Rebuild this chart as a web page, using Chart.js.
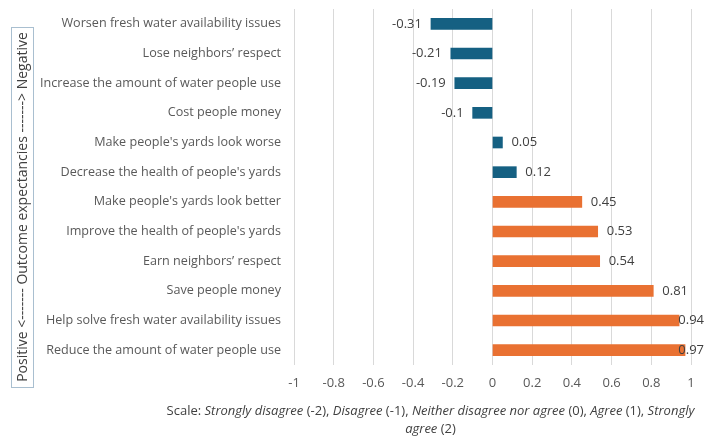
<!DOCTYPE html>
<html>
<head>
<meta charset="utf-8">
<script src="https://cdn.jsdelivr.net/npm/chart.js@4"></script>
<style>
  html, body { margin: 0; padding: 0; background: #fff; }
  #wrap { position: relative; width: 705px; height: 437px; }
  #caption {
    position: absolute; left: 158px; top: 401px; width: 545px;
    text-align: center; font: 13px "Open Sans", sans-serif; color: #404040; line-height: 18px;
  }
</style>
</head>
<body>
<div id="wrap">
  <canvas id="chart" width="705" height="437"></canvas>
  <div id="caption">Scale: <i>Strongly disagree</i> (-2), <i>Disagree</i> (-1), <i>Neither disagree nor agree</i> (0), <i>Agree</i> (1), <i>Strongly agree</i> (2)</div>
</div>
<script>
  // --- Data ---
  const categories = [
    "Worsen fresh water availability issues",
    "Lose neighbors’ respect",
    "Increase the amount of water people use",
    "Cost people money",
    "Make people's yards look worse",
    "Decrease the health of people's yards",
    "Make people's yards look better",
    "Improve the health of people's yards",
    "Earn neighbors’ respect",
    "Save people money",
    "Help solve fresh water availability issues",
    "Reduce the amount of water people use"
  ];
  const values = [-0.31, -0.21, -0.19, -0.1, 0.05, 0.12, 0.45, 0.53, 0.54, 0.81, 0.94, 0.97];
  const negativeCount = 6; // first six are negative outcome expectancies
  const xTicks = [-1, -0.8, -0.6, -0.4, -0.2, 0, 0.2, 0.4, 0.6, 0.8, 1];
  const sideTitle = "Positive <------- Outcome expectancies -------> Negative";

  const BLUE = "#156082";
  const ORANGE = "#E97132";
  const FONT = '"Open Sans", sans-serif';

  // value labels next to the bar ends
  const valueLabels = {
    id: "valueLabels",
    afterDatasetsDraw(chart) {
      const ctx = chart.ctx;
      const meta = chart.getDatasetMeta(0);
      ctx.save();
      ctx.font = "13px " + FONT;
      ctx.fillStyle = "#404040";
      ctx.textBaseline = "middle";
      meta.data.forEach((bar, i) => {
        const v = values[i];
        const txt = String(v);
        const w = ctx.measureText(txt).width;
        if (v < 0) {
          ctx.textAlign = "right";
          ctx.fillText(txt, bar.x - 9, bar.y);
        } else {
          ctx.textAlign = "left";
          const x = Math.min(bar.x + 9, chart.width - 1 - w);
          ctx.fillText(txt, x, bar.y);
        }
      });
      ctx.restore();
    }
  };

  // boxed vertical title at the left
  const sideBox = {
    id: "sideBox",
    afterDraw(chart) {
      const ctx = chart.ctx;
      const left = 11, right = 33, top = 27, bottom = 387;
      ctx.save();
      ctx.strokeStyle = "#a9bfd0";
      ctx.lineWidth = 1;
      ctx.strokeRect(left + 0.5, top + 0.5, right - left, bottom - top);
      ctx.translate((left + right) / 2 + 1, (top + bottom) / 2);
      ctx.rotate(-Math.PI / 2);
      ctx.font = "14px " + FONT;
      ctx.fillStyle = "#404040";
      ctx.textAlign = "center";
      ctx.textBaseline = "middle";
      ctx.fillText(sideTitle, 0, 0);
      ctx.restore();
    }
  };

  new Chart(document.getElementById("chart"), {
    type: "bar",
    data: {
      labels: categories,
      datasets: [{
        data: values,
        backgroundColor: values.map((v, i) => i < negativeCount ? BLUE : ORANGE),
        borderWidth: 0,
        barThickness: 11
      }]
    },
    options: {
      indexAxis: "y",
      responsive: false,
      animation: false,
      layout: { padding: { top: 9, right: 14, left: 0, bottom: 0 } },
      plugins: { legend: { display: false }, tooltip: { enabled: false } },
      scales: {
        x: {
          min: -1, max: 1,
          afterBuildTicks: s => { s.ticks = xTicks.map(v => ({ value: v })); },
          afterFit: s => { s.height = 72; s.paddingLeft = 0; s.paddingRight = 0; },
          grid: { color: "#d9d9d9", drawTicks: false },
          border: { display: false },
          ticks: {
            padding: 10,
            color: "#595959",
            font: { family: FONT, size: 13 },
            callback: v => String(v)
          }
        },
        y: {
          afterFit: s => { s.width = 294; s.paddingTop = 0; s.paddingBottom = 0; },
          grid: { display: false, drawTicks: false },
          border: { display: false },
          ticks: {
            padding: 13,
            color: "#595959",
            font: { family: FONT, size: 12.6 }
          }
        }
      }
    },
    plugins: [valueLabels, sideBox]
  });
</script>
</body>
</html>
